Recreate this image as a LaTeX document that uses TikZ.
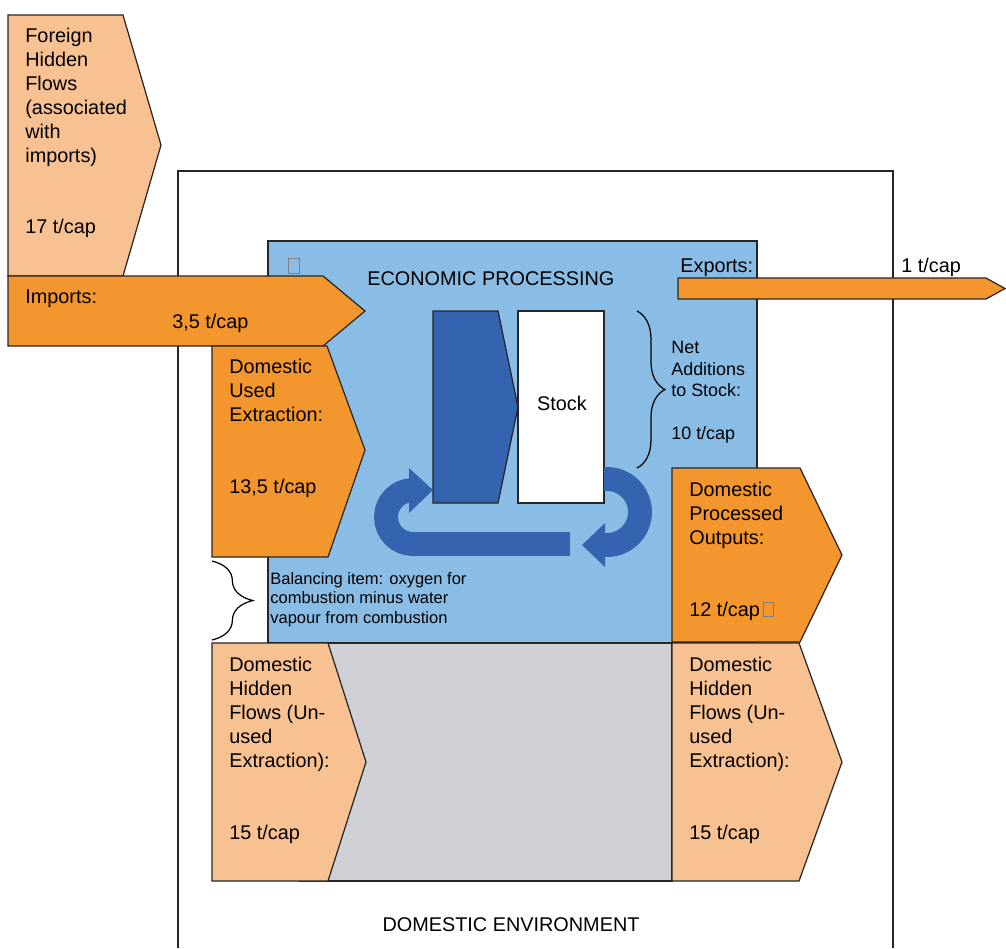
\documentclass[tikz,border=0pt]{standalone}
\usepackage{fontspec}
\setmainfont{Liberation Sans}
\usepackage{tikz}
\usetikzlibrary{decorations.pathreplacing}
\pgfdeclarelayer{background}
\pgfdeclarelayer{foreground}
\pgfsetlayers{background,main,foreground}
\definecolor{flowlight}{RGB}{248,193,146}
\definecolor{flowdark}{RGB}{243,150,45}
\definecolor{ecoblue}{RGB}{138,189,230}
\definecolor{loopblue}{RGB}{52,100,176}
\definecolor{envgray}{RGB}{207,208,213}
\newcommand{\nog}{{\color{gray}\fboxsep=0pt\fboxrule=0.5pt\fbox{\rule{0pt}{7.6pt}\hspace{5.6pt}}}}

\begin{document}
\begin{tikzpicture}[x=0.02cm,y=-0.02cm,
  edge/.style={draw=black!85,line width=0.7pt},
  txt/.style={anchor=north west,inner sep=0pt,align=left,font=\fontsize{11.3}{13.6}\selectfont},
  smalltxt/.style={txt,font=\fontsize{10.2}{12.2}\selectfont},
  tinytxt/.style={txt,font=\fontsize{9.4}{11.05}\selectfont},
  band/.style={loopblue,line width=13.6pt},
  curly/.style={draw=black,line width=0.7pt,decorate,decoration={brace,amplitude=#1}}]
\useasboundingbox (0,0) rectangle (1006,948);
\begin{pgfonlayer}{background}
\draw[edge] (178,948) -- (178,171) -- (893,171) -- (893,948);
\draw[edge,fill=ecoblue] (268,241) rectangle (757,643);
\draw[edge,fill=envgray] (300,643) rectangle (672,881);
\end{pgfonlayer}
\draw[edge,fill=flowlight] (8,15) -- (123,15) -- (161,145) -- (123,276) -- (8,276) -- cycle;
\draw[edge,fill=flowdark] (8,276) -- (323,276) -- (365,311) -- (323,346) -- (8,346) -- cycle;
\draw[edge,fill=flowdark] (212,346) -- (327,346) -- (365,450) -- (328,557) -- (212,557) -- cycle;
\draw[edge,fill=flowdark] (678,278) -- (986,278) -- (1005,288.5) -- (986,299) -- (678,299) -- cycle;
\draw[edge,fill=flowdark] (672,468) -- (800,468) -- (842,555) -- (800,642) -- (672,642) -- cycle;
\draw[edge,fill=flowlight] (212,643) -- (328,643) -- (366,762) -- (328,881) -- (212,881) -- cycle;
\draw[edge,fill=flowlight] (672,643) -- (799,643) -- (842,762) -- (799,881) -- (672,881) -- cycle;
\draw[edge,fill=loopblue] (433,311) -- (498,311) -- (518,407) -- (498,503) -- (433,503) -- cycle;
\draw[edge,fill=white] (518,311) rectangle (604,503);
\draw[band] (570,544) -- (413,544) arc[start angle=90,end angle=270,radius=27];
\fill[loopblue] (409,468) -- (433,490) -- (409,513) -- cycle;
\draw[band] (604,479) -- (607,479) arc[start angle=-90,end angle=90,radius=33] -- (604,545);
\fill[loopblue] (605,523) -- (582,545) -- (605,567) -- cycle;
\draw[curly=15.9pt] (637,311) -- (637,468);
\draw[curly=23.2pt] (212,561) -- (212,640);
\begin{pgfonlayer}{foreground}
\node[txt] (fhf) at (25,28) {Foreign\\Hidden\\Flows\\(associated\\with\\imports)\\[27.2pt]17 t/cap};
\node[txt] (imp) at (25,289) {Imports:};
\node[txt] (impval) at (172,314) {3,5 t/cap};
\node[txt] (due) at (229,359) {Domestic\\Used\\Extraction:\\[27.2pt]13,5 t/cap};
\node[txt] (glyph) at (288,258) {\nog};
\node[txt] (eco) at (367,271) {ECONOMIC PROCESSING};
\node[txt,anchor=north] (stock) at (562,396) {Stock};
\node[txt] (exp) at (680,258) {Exports:};
\node[txt] (expval) at (901,258) {1 t/cap};
\node[smalltxt] (nas) at (671,341) {Net\\Additions\\to Stock:\\[12.2pt]10 t/cap};
\node[txt] (dpo) at (689,482) {Domestic\\Processed\\Outputs:\\[27.2pt]12 t/cap\kern1.5pt\nog};
\node[tinytxt] (bal) at (270,572) {Balancing item: oxygen for\\combustion minus water\\vapour from combustion};
\node[txt] (dhfl) at (229,657) {Domestic\\Hidden\\Flows (Un-\\used\\Extraction):\\[27.2pt]15 t/cap};
\node[txt] (dhfr) at (689,657) {Domestic\\Hidden\\Flows (Un-\\used\\Extraction):\\[27.2pt]15 t/cap};
\node[txt,anchor=north] (env) at (511,917) {DOMESTIC ENVIRONMENT};
\end{pgfonlayer}
\end{tikzpicture}
\end{document}
